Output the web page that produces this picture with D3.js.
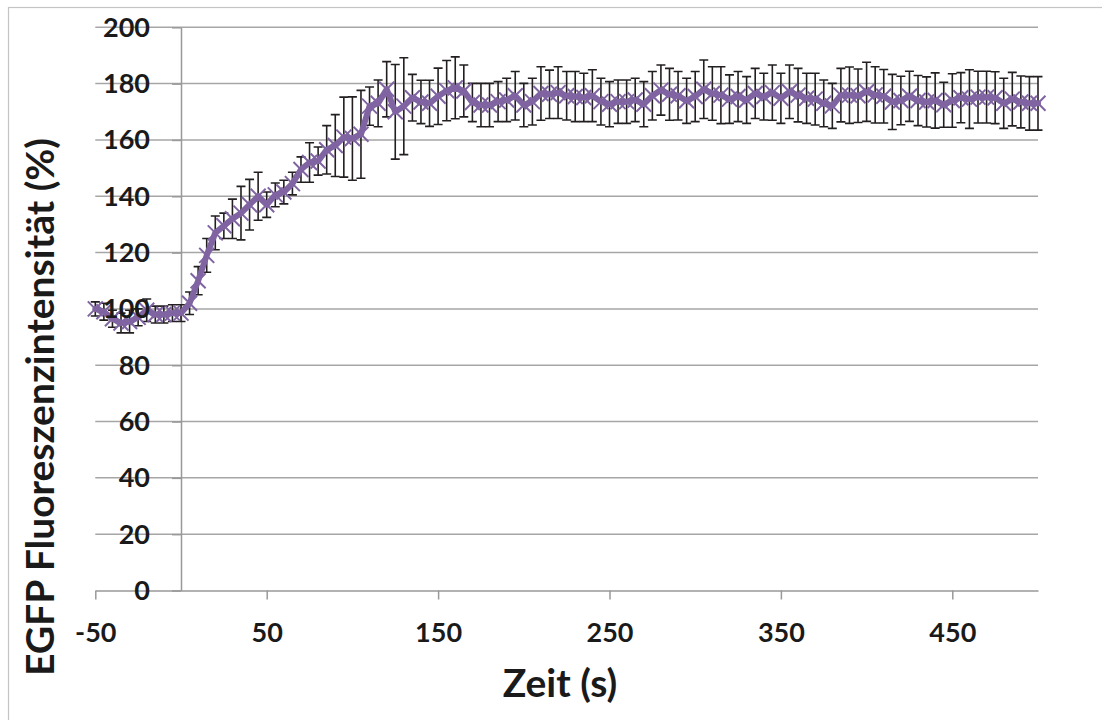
<!DOCTYPE html>
<html>
<head>
<meta charset="utf-8">
<script src="https://cdn.jsdelivr.net/npm/d3@7"></script>
<style>
  html, body { margin: 0; padding: 0; background: #ffffff; }
  svg { display: block; }
  text { font-family: Lato, "Open Sans", sans-serif; font-weight: 700; fill: #1a1a1a; }
</style>
</head>
<body>
<svg id="chart" width="1102" height="720"></svg>
<script>
// Time points (s)
const times = [
  -50, -45, -40, -35, -30, -25, -20, -15, -10, -5,
  0, 5, 10, 15, 20, 25, 30, 35, 40, 45,
  50, 55, 60, 65, 70, 75, 80, 85, 90, 95,
  100, 105, 110, 115, 120, 125, 130, 135, 140, 145,
  150, 155, 160, 165, 170, 175, 180, 185, 190, 195,
  200, 205, 210, 215, 220, 225, 230, 235, 240, 245,
  250, 255, 260, 265, 270, 275, 280, 285, 290, 295,
  300, 305, 310, 315, 320, 325, 330, 335, 340, 345,
  350, 355, 360, 365, 370, 375, 380, 385, 390, 395,
  400, 405, 410, 415, 420, 425, 430, 435, 440, 445,
  450, 455, 460, 465, 470, 475, 480, 485, 490, 495,
  500
];

// Mean EGFP fluorescence intensity (% of baseline)
const intensity = [
  100, 99, 96.5, 95, 95.5, 97, 99.5, 98, 98, 98.5,
  98.5, 102, 110, 119, 127, 129.5, 132, 134, 137, 140,
  137, 140.5, 141.5, 144.5, 149.5, 152, 152.5, 156.5, 158, 161,
  160.5, 162, 172, 173, 178, 170, 172, 175, 173.5, 173,
  175.5, 177.5, 178.5, 177.4, 173.3, 172.4, 172.4, 173.6, 174.2, 175.7,
  172.4, 173.6, 176.5, 176.2, 176.8, 175.7, 175.4, 175.1, 175.7, 173.6,
  172.7, 173.6, 173.6, 174.2, 172.7, 175.7, 177.7, 176.2, 175.7, 173.9,
  175.4, 178, 176.5, 175.9, 174.5, 175.4, 174.2, 176.5, 175.4, 176.8,
  174.8, 177.1, 175.9, 174.8, 174.5, 173, 172.1, 175.9, 175.9, 175.7,
  177.1, 176, 175.5, 173.5, 174, 175.5, 174, 173.5, 174, 172.5,
  174, 175, 174.5, 175.2, 175.2, 175, 173, 174.5, 173.5, 173,
  173
];

// Standard deviation of each point
const deviation = [
  2.5, 3, 3, 3.5, 4, 3, 4, 3, 3, 3,
  3, 4, 5, 6, 6, 4.5, 7, 9.5, 9, 8.5,
  4.5, 4.2, 4.2, 4, 4.5, 7, 5, 8.6, 11, 14.2,
  14.8, 15.6, 6.8, 8.3, 9.8, 16.8, 17.2, 8.3, 7.7, 8.2,
  10, 10.7, 11, 9.2, 6.8, 7.7, 7.7, 7.1, 7.7, 8.6,
  7.7, 8.3, 9.5, 8.6, 9.2, 8.6, 8.9, 8.6, 9.2, 8.3,
  8, 7.7, 7.7, 7.7, 8, 8.6, 8.9, 9.2, 8.6, 8,
  8.9, 10.4, 9.5, 10.1, 8.6, 8.9, 8.3, 8.9, 8.3, 9.8,
  8.9, 9.5, 9.5, 8.9, 9.2, 8.3, 8, 9.5, 10, 9.5,
  10.5, 10, 9.5, 9.8, 8.6, 8.9, 8.9, 8.9, 9.8, 8,
  9.5, 8.9, 10.4, 9.2, 9.2, 9.2, 8.9, 9.5, 9.2, 9.5,
  9.5
];

const xTicks = [-50, 50, 150, 250, 350, 450];
const yTicks = [0, 20, 40, 60, 80, 100, 120, 140, 160, 180, 200];
const xTitle = "Zeit (s)";
const yTitle = "EGFP Fluoreszenzintensität (%)";

const points = times.map((t, i) => ({ t, v: intensity[i], e: deviation[i] }));

const svg = d3.select("#chart");
const purple = "#8064a2";

const x = d3.scaleLinear().domain([-50, 500]).range([95.3, 1038]);
const y = d3.scaleLinear().domain([0, 200]).range([590.5, 27.3]);

// Chart frame
svg.append("rect")
  .attr("x", 8.5).attr("y", 7.5)
  .attr("width", 1100).attr("height", 720)
  .attr("fill", "none").attr("stroke", "#c4c4c4").attr("stroke-width", 1.2);

// Horizontal gridlines
svg.append("g").selectAll("line")
  .data(yTicks.filter(d => d > 0))
  .join("line")
  .attr("x1", x(-50)).attr("x2", x(500))
  .attr("y1", d => y(d)).attr("y2", d => y(d))
  .attr("stroke", "#a6a6a6").attr("stroke-width", 1.5);

// X axis (crosses at y = 0)
const xAxis = svg.append("g")
  .attr("transform", `translate(0,${y(0)})`)
  .call(d3.axisBottom(x).tickValues(xTicks).tickFormat(d => String(d))
    .tickSize(9).tickSizeOuter(0).tickPadding(23));
xAxis.select(".domain").attr("stroke", "#999999").attr("stroke-width", 1.5);
xAxis.selectAll(".tick line").attr("stroke", "#999999").attr("stroke-width", 1.5);
xAxis.selectAll("text").attr("font-size", 27).attr("fill", "#1a1a1a")
  .attr("font-family", "Lato, sans-serif").attr("font-weight", 700);

// Y axis (crosses at x = 0)
const yAxisLine = svg.append("g")
  .attr("transform", `translate(${x(0)},0)`)
  .call(d3.axisLeft(y).tickValues(yTicks).tickFormat("").tickSize(9).tickSizeOuter(0));
yAxisLine.select(".domain").attr("stroke", "#999999").attr("stroke-width", 1.5);
yAxisLine.selectAll(".tick line").attr("stroke", "#999999").attr("stroke-width", 1.5);

// Error bars
const eb = svg.append("g").attr("stroke", "#231f20").attr("stroke-width", 1.6).attr("fill", "none");
const cap = 4.5;
eb.selectAll("path")
  .data(points)
  .join("path")
  .attr("d", d => {
    const cx = x(d.t), top = y(d.v + d.e), bot = y(d.v - d.e);
    return `M${cx},${top}V${bot}M${cx - cap},${top}H${cx + cap}M${cx - cap},${bot}H${cx + cap}`;
  });

// Mean line
svg.append("path")
  .datum(points)
  .attr("fill", "none")
  .attr("stroke", purple)
  .attr("stroke-width", 6)
  .attr("stroke-linejoin", "round")
  .attr("stroke-linecap", "round")
  .attr("d", d3.line().x(d => x(d.t)).y(d => y(d.v)));

// X markers
const m = 7.5;
svg.append("g").selectAll("path")
  .data(points)
  .join("path")
  .attr("d", d => {
    const cx = x(d.t), cy = y(d.v);
    return `M${cx - m},${cy - m}L${cx + m},${cy + m}M${cx - m},${cy + m}L${cx + m},${cy - m}`;
  })
  .attr("stroke", purple).attr("stroke-width", 2).attr("fill", "none");

// Y tick labels, drawn above the series
svg.append("g").selectAll("text")
  .data(yTicks)
  .join("text")
  .attr("x", 150)
  .attr("y", d => y(d))
  .attr("dy", "0.35em")
  .attr("text-anchor", "end")
  .attr("font-size", 27)
  .text(d => d);

// Axis titles
svg.append("text")
  .attr("x", 560).attr("y", 697)
  .attr("text-anchor", "middle")
  .attr("font-size", 39)
  .text(xTitle);

svg.append("text")
  .attr("transform", `translate(54,407) rotate(-90)`)
  .attr("text-anchor", "middle")
  .attr("font-size", 39)
  .text(yTitle);
</script>
</body>
</html>
